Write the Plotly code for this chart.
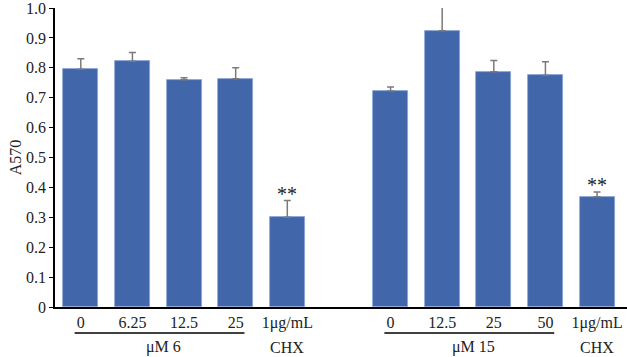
import plotly.graph_objects as go

# Data
positions = [0, 1, 2, 3, 4, 6, 7, 8, 9, 10]
tick_labels = ["0", "6.25", "12.5", "25", "1μg/mL", "0", "12.5", "25", "50", "1μg/mL"]
values = [0.795, 0.822, 0.760, 0.763, 0.300, 0.722, 0.924, 0.787, 0.775, 0.369]
errors = [0.035, 0.029, 0.007, 0.037, 0.056, 0.014, 0.080, 0.037, 0.045, 0.016]
group_labels = ["μM 6", "μM 15"]
group_spans = [(0, 3), (6, 9)]
sig_positions = [4, 10]
sig_text = "**"
y_tickvals = [0, 0.1, 0.2, 0.3, 0.4, 0.5, 0.6, 0.7, 0.8, 0.9, 1.0]
y_ticktext = ["0", "0.1", "0.2", "0.3", "0.4", "0.5", "0.6", "0.7", "0.8", "0.9", "1.0"]

FONT = "Liberation Serif"
FS = 16
TXT = "#222222"

fig = go.Figure()
fig.add_trace(go.Bar(
    x=positions, y=values, width=0.68, cliponaxis=False,
    marker=dict(color="#4166a9", line=dict(color="#8aa6d6", width=0.8)),
    error_y=dict(type="data", symmetric=False, array=errors,
                 arrayminus=[0] * len(errors), color="#7a7a7a",
                 thickness=1.5, width=3.5),
    showlegend=False,
))

annotations = []
shapes = []
for p, v, e in zip(positions, values, errors):
    if p in sig_positions:
        annotations.append(dict(x=p, y=v + e, xref="x", yref="y", text=sig_text,
                                showarrow=False, yanchor="bottom", yshift=-6,
                                font=dict(family=FONT, size=20, color=TXT)))
for p in sig_positions:
    annotations.append(dict(x=p, y=-0.134, xref="x", yref="paper", text="CHX",
                            showarrow=False, yanchor="middle",
                            font=dict(family=FONT, size=FS, color=TXT)))
for (a, b), lab in zip(group_spans, group_labels):
    shapes.append(dict(type="line", xref="x", yref="paper", x0=a - 0.12, x1=b + 0.17,
                       y0=-0.087, y1=-0.087, line=dict(color="black", width=1.6)))
    annotations.append(dict(x=(a + b) / 2 + 0.1, y=-0.134, xref="x", yref="paper", text=lab,
                            showarrow=False, yanchor="middle",
                            font=dict(family=FONT, size=FS, color=TXT)))

fig.update_layout(
    width=627, height=357,
    margin=dict(l=55, r=0, t=8, b=50, autoexpand=False),
    plot_bgcolor="white", paper_bgcolor="white",
    font=dict(family=FONT, size=FS, color=TXT),
    bargap=0,
    annotations=annotations, shapes=shapes,
)
fig.update_xaxes(range=[-0.5, 10.58], tickvals=positions, ticktext=tick_labels,
                 showline=True, linecolor="black", linewidth=2, ticks="",
                 showgrid=False, zeroline=False, automargin=False,
                 tickfont=dict(family=FONT, size=FS, color=TXT))
fig.update_yaxes(range=[0, 1.0], tickvals=y_tickvals, ticktext=y_ticktext,
                 showline=True, linecolor="black", linewidth=1.5, ticks="outside",
                 ticklen=4, tickwidth=1.2, tickcolor="black", ticklabeloverflow="allow",
                 showgrid=False, zeroline=False, automargin=False,
                 title=dict(text="A570", standoff=0, font=dict(family=FONT, size=FS, color=TXT)),
                 tickfont=dict(family=FONT, size=FS, color=TXT))

fig.write_html("out.html", config={"displayModeBar": False},
               post_script="document.body.style.margin='0px';document.body.style.padding='0px';")
